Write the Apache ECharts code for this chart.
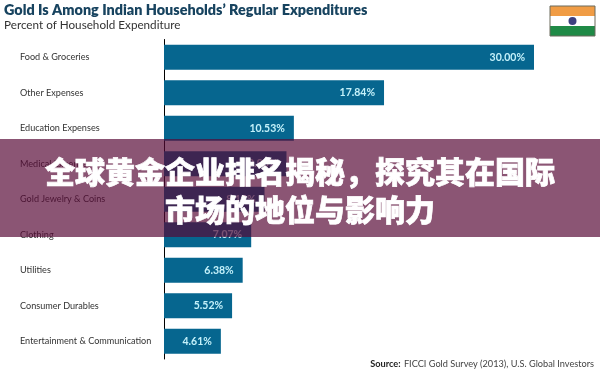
<!DOCTYPE html>
<html>
<head>
<meta charset="utf-8">
<style>
  html, body { margin: 0; padding: 0; background: #fff; }
  #chart { width: 600px; height: 376px; }
</style>
<script src="https://cdn.jsdelivr.net/npm/echarts@6/dist/echarts.min.js"></script>
</head>
<body>
<div id="chart"></div>
<script>
const categories = ['Food & Groceries', 'Other Expenses', 'Education Expenses', 'Medical Expenses',
  'Gold Jewelry & Coins', 'Clothing', 'Utilities', 'Consumer Durables', 'Entertainment & Communication'];
const expenditure = [30.00, 17.84, 10.53, 9.93, 8.15, 7.07, 6.38, 5.52, 4.61];
const bannerLines = ['全球黄金企业排名揭秘，探究其在国际', '市场的地位与影响力'];

const latin = 'Lato, sans-serif';
const chart = echarts.init(document.getElementById('chart'), null, { renderer: 'canvas' });

chart.setOption({
  animation: false,
  backgroundColor: '#fff',
  grid: { left: 164, right: 66, top: 39.5, bottom: 17 },
  xAxis: { type: 'value', min: 0, max: 30, show: false },
  yAxis: {
    type: 'category',
    data: categories,
    inverse: true,
    axisTick: { show: false },
    axisLine: { lineStyle: { color: '#000', width: 1 } },
    axisLabel: {
      margin: 144,
      align: 'left',
      fontFamily: latin,
      fontSize: 9.1,
      color: '#333'
    }
  },
  series: [{
    type: 'bar',
    data: expenditure,
    barWidth: 25,
    itemStyle: { color: '#06668f' },
    label: {
      show: true,
      position: 'insideRight',
      distance: 9,
      fontFamily: latin,
      fontSize: 10.5,
      fontWeight: 700,
      color: '#c4f1fa',
      formatter: p => p.value.toFixed(2) + '%'
    }
  }],
  graphic: [
    { type: 'text', left: 4, top: 3, z: 10, style: { text: 'Gold Is Among Indian Households’ Regular Expenditures', font: '800 14.4px Lato, sans-serif', fill: '#17435f' } },
    { type: 'text', left: 4, top: 19, z: 10, style: { text: 'Percent of Household Expenditure', font: '11.7px Lato, sans-serif', fill: '#333' } },
    { type: 'text', right: 6, top: 358.5, z: 10, style: { rich: { b: { font: '700 9.2px Lato, sans-serif', fill: '#222' }, n: { font: '9.2px Lato, sans-serif', fill: '#444' } }, text: '{b|Source:} {n|FICCI Gold Survey (2013), U.S. Global Investors}' } },

    // flag
    { type: 'rect', z: 10, shape: { x: 550, y: 6, width: 45, height: 10 }, style: { fill: '#f09c45' } },
    { type: 'rect', z: 10, shape: { x: 550, y: 16, width: 45, height: 10 }, style: { fill: '#fff' } },
    { type: 'rect', z: 10, shape: { x: 550, y: 26, width: 45, height: 10 }, style: { fill: '#1f8a46' } },
    { type: 'rect', z: 11, shape: { x: 550, y: 6, width: 45, height: 30 }, style: { fill: 'none', stroke: '#6b6b5c', lineWidth: 1 } },
    { type: 'circle', z: 11, shape: { cx: 572.5, cy: 21, r: 4 }, style: { fill: '#3d4080' } },

    // banner
    { type: 'rect', z: 100, shape: { x: 0, y: 139, width: 600, height: 98 }, style: { fill: 'rgba(87,9,54,0.69)' } },
    { type: 'text', z: 101, x: 300, y: 172, style: { text: bannerLines[0], font: '900 30px "Noto Sans CJK SC"', fill: '#fff', stroke: '#fff', lineWidth: 0.7, align: 'center', verticalAlign: 'middle' } },
    { type: 'text', z: 101, x: 300, y: 210, style: { text: bannerLines[1], font: '900 30px "Noto Sans CJK SC"', fill: '#fff', stroke: '#fff', lineWidth: 0.7, align: 'center', verticalAlign: 'middle' } }
  ]
});
</script>
</body>
</html>
